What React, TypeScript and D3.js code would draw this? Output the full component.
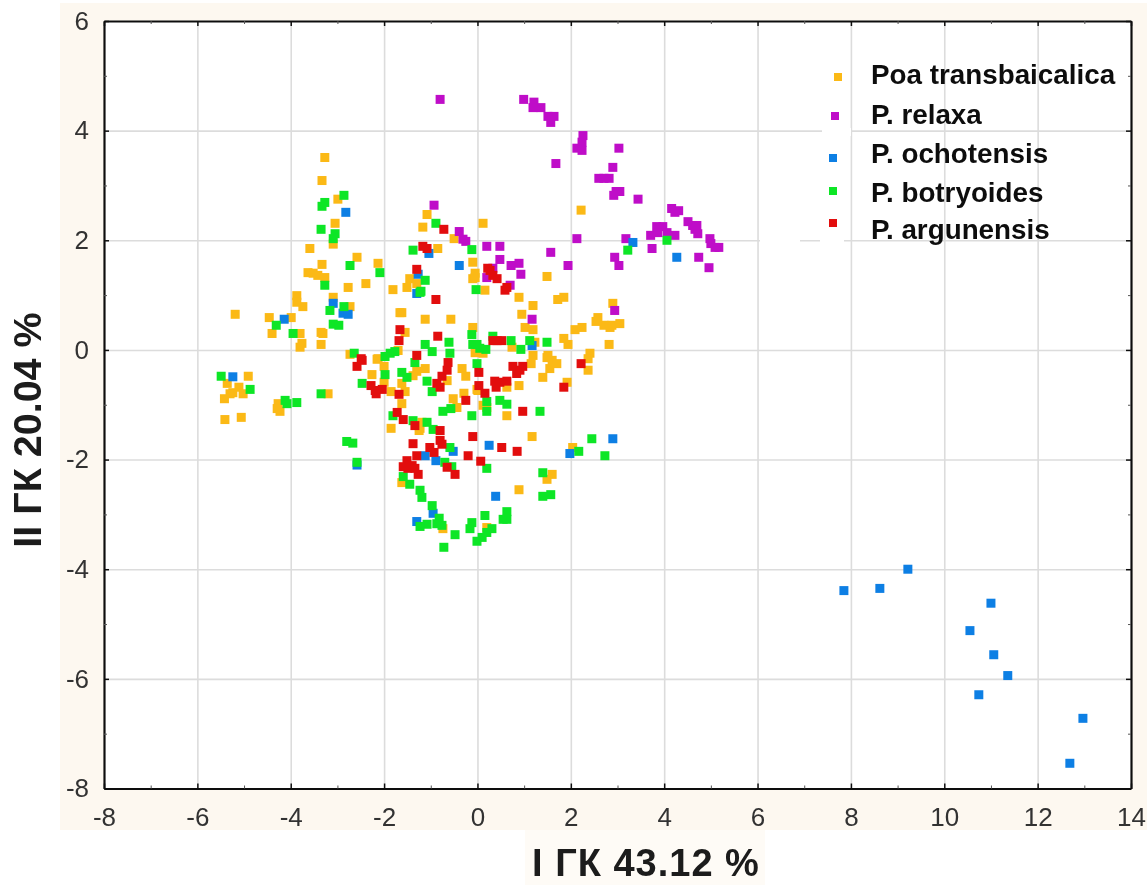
import { useEffect, useRef } from 'react'
import * as d3 from 'd3'

type Pt = [number, number]

const xTicks = [-8, -6, -4, -2, 0, 2, 4, 6, 8, 10, 12, 14]
const yTicks = [-8, -6, -4, -2, 0, 2, 4, 6]
const xMinor = [-7, -5, -3, -1, 1, 3, 5, 7, 9, 11, 13]
const yMinor = [-7, -5, -3, -1, 1, 3, 5]

const xTitle = 'I ГК 43.12 %'
const yTitle = 'II ГК 20.04 %'

const transbaicalica: Pt[] = [
  [-3.27, 3.51], [-3.33, 3.09], [-2.99, 2.75], [-3.05, 2.31], [-3.09, 1.93], [-3.59, 1.85], [-2.58, 1.69], [-3.33, 1.56],
  [-2.13, 1.58], [-3.63, 1.41], [-3.52, 1.4], [-3.42, 1.36], [-3.27, 1.32], [-2.77, 1.14], [-2.39, 1.21], [-1.81, 1.1],
  [-3.87, 0.99], [-3.87, 0.87], [-3.74, 0.79], [-3.09, 0.96], [-2.73, 0.79], [-5.19, 0.65], [-4.46, 0.59], [-3.99, 0.59],
  [-4.4, 0.3], [-3.8, 0.3], [-3.35, 0.32], [-3.31, 0.3], [-3.76, 0.12], [-3.8, 0.05], [-3.35, 0.1], [-1.66, 0.68],
  [-1.51, 1.14], [-1.45, 1.3], [-1.3, 1.21], [-1.62, 0.68], [-1.12, 0.56], [-0.57, 0.56], [-1.17, 2.24], [-1.08, 2.47],
  [-0.85, 1.85], [-0.5, 2.03], [-0.1, 1.6], [-0.05, 1.4], [-0.1, 1.3], [-1.55, 0.32], [-0.1, 0.41], [-2.73, -0.08],
  [-2.13, -0.16], [0.12, 2.31], [2.22, 2.55], [-0.05, 1.32], [0.16, 1.09], [1.49, 1.34], [0.89, 0.96], [1.19, 0.81],
  [0.95, 0.65], [1.72, 0.92], [1.85, 0.96], [2.9, 0.85], [2.58, 0.59], [2.54, 0.52], [2.71, 0.45], [2.88, 0.45],
  [3.05, 0.48], [2.84, 0.41], [2.09, 0.37], [2.24, 0.41], [1.85, 0.21], [1.94, 0.1], [2.82, 0.1], [1.02, 0.41],
  [1.19, 0.37], [1.23, 0.14], [1.19, -0.1], [1.51, -0.1], [2.41, -0.06], [0.74, 0.05], [2.37, -0.16], [2.37, -0.37],
  [1.92, -0.59], [1.4, -0.5], [0.89, -0.65], [0.63, -0.68], [1.49, -0.14], [1.6, -0.19], [1.7, -0.25], [1.55, -0.34],
  [1.15, -0.25], [0.63, -1.2], [1.17, -1.58], [2.04, -1.78], [0.89, -2.55], [1.6, -2.27], [1.49, -2.36], [0.2, -1.05],
  [-0.52, -0.89], [-0.29, -0.79], [-0.44, -1.05], [-1.23, -1.43], [0.2, -3.24], [-0.74, -3.26], [-0.65, -0.56], [-0.33, -0.34],
  [-0.25, -0.48], [-0.01, -0.72], [-4.91, -0.48], [-5.36, -0.61], [-5.11, -0.68], [-5.24, -0.78], [-5.3, -0.8], [-5.42, -0.89],
  [-5.02, -0.8], [-5.41, -1.27], [-5.06, -1.23], [-4.27, -0.98], [-4.29, -1.07], [-4.23, -1.12], [-3.2, -0.8], [-2.15, -0.17],
  [-2.0, -0.3], [-2.26, -0.45], [-2.0, -0.59], [-1.85, -0.76], [-1.62, -0.61], [-1.55, -0.76], [-1.62, -0.98], [-1.3, -0.39],
  [-1.12, -0.34], [-1.38, -0.47], [-1.85, -1.43], [-1.25, -1.47], [-1.19, -1.32], [-1.62, -2.42], [-0.05, -0.05], [0.12, -0.06],
  [-1.7, -0.01], [0.12, -1.01], [0.01, -0.74],
]

const relaxa: Pt[] = [
  [-0.8, 4.57], [0.99, 4.57], [1.21, 4.52], [1.19, 4.42], [1.36, 4.42], [1.51, 4.26], [1.64, 4.26], [1.57, 4.15],
  [2.26, 3.91], [2.24, 3.79], [2.13, 3.68], [2.24, 3.64], [3.03, 3.68], [1.68, 3.4], [2.9, 3.33], [2.6, 3.13],
  [2.71, 3.13], [2.82, 3.13], [3.05, 2.89], [2.97, 2.89], [2.92, 2.82], [3.44, 2.75], [4.16, 2.58], [4.31, 2.54],
  [4.23, 2.51], [4.51, 2.34], [4.61, 2.27], [4.7, 2.27], [4.66, 2.2], [4.72, 2.12], [4.98, 2.03], [5.0, 1.94],
  [5.09, 1.87], [5.17, 1.87], [3.84, 2.25], [3.97, 2.25], [3.71, 2.09], [3.86, 2.14], [4.06, 2.14], [4.23, 2.09],
  [3.18, 2.03], [2.13, 2.03], [2.94, 1.69], [3.03, 1.54], [3.74, 1.85], [4.74, 1.69], [4.96, 1.5], [1.94, 1.54],
  [1.57, 1.78], [0.93, 1.38], [0.89, 1.58], [0.72, 1.54], [0.48, 1.65], [0.48, 1.89], [0.2, 1.89], [-0.25, 1.98],
  [-0.31, 2.02], [-0.39, 2.16], [-0.93, 2.64], [2.94, 0.72], [1.17, 0.56], [0.7, 1.18], [0.2, 1.32], [0.33, 1.49],
]

const ochotensis: Pt[] = [
  [7.85, -4.39], [8.62, -4.35], [9.22, -4.0], [11.0, -4.62], [10.55, -5.12], [11.06, -5.56], [11.36, -5.94], [10.74, -6.29],
  [12.97, -6.72], [12.69, -7.54], [-2.82, 2.51], [-4.14, 0.56], [-3.09, 0.85], [-2.88, 0.67], [-2.77, 0.65], [-5.24, -0.49],
  [-2.58, -2.1], [-1.12, -1.93], [-0.89, -2.02], [-0.52, -1.85], [0.25, -1.74], [0.39, -2.67], [-1.3, -3.13], [-0.95, -2.98],
  [1.98, -1.89], [2.9, -1.62], [1.17, 0.08], [3.33, 1.96], [4.27, 1.69], [-0.39, 1.54], [-1.04, 1.76], [-1.27, 1.38], [-1.3, 1.03],
]

const botryoides: Pt[] = [
  [-2.86, 2.82], [-3.27, 2.69], [-3.33, 2.62], [-3.35, 2.2], [-3.05, 2.12], [-3.09, 2.03], [-2.73, 1.54], [-2.09, 1.41],
  [-3.27, 1.18], [-3.16, 0.72], [-2.86, 0.79], [-3.09, 0.47], [-2.97, 0.45], [-4.31, 0.45], [-3.95, 0.3], [-1.38, 1.82],
  [-0.89, 2.31], [-0.12, 1.83], [-1.12, 1.27], [-1.21, 1.07], [-0.03, 1.1], [-0.12, 0.28], [-0.1, 0.1], [-0.01, 0.1],
  [-0.61, 0.14], [-1.12, 0.1], [-0.97, -0.03], [-0.59, -0.06], [-1.77, -0.03], [-1.87, -0.06], [-1.98, -0.12], [-2.64, -0.06],
  [-5.49, -0.48], [-4.87, -0.72], [-4.12, -0.92], [-4.08, -0.98], [-3.87, -0.96], [-3.35, -0.8], [-2.8, -1.67], [-2.67, -1.7],
  [-2.58, -2.05], [-1.98, -0.45], [-1.62, -0.41], [-1.51, -0.5], [-2.47, -0.61], [-1.34, -0.23], [-0.01, -0.25], [0.18, 0.01],
  [-1.08, -0.57], [-0.97, -0.76], [-0.74, -1.12], [-0.57, -1.07], [-0.12, -1.2], [0.2, -0.94], [0.2, -1.12], [-1.81, -1.2],
  [-1.08, -1.32], [-1.38, -1.29], [-0.95, -1.45], [-0.59, -1.78], [-0.7, -2.05], [-0.55, -2.13], [0.2, -2.16], [-1.59, -2.31],
  [-1.45, -2.45], [-1.23, -2.56], [-1.19, -2.69], [-0.97, -2.84], [-0.82, -3.07], [-0.87, -3.17], [-1.08, -3.18], [-1.23, -3.22],
  [-0.76, -3.2], [-0.48, -3.37], [-0.72, -3.6], [-0.12, -3.15], [-0.16, -3.26], [0.16, -3.02], [0.31, -3.26], [0.2, -3.33],
  [0.1, -3.42], [-0.01, -3.49], [0.48, -0.92], [0.63, -0.99], [1.34, -1.12], [0.63, -2.95], [0.63, -3.09], [0.55, -3.09],
  [2.45, -1.62], [2.17, -1.85], [2.73, -1.93], [1.4, -2.24], [1.4, -2.67], [1.57, -2.64], [1.49, 0.14], [1.12, 0.17],
  [0.93, 0.01], [0.72, 0.17], [0.33, 0.25], [0.05, 0.03], [4.06, 2.0], [3.22, 1.82], [-1.23, 1.05],
]

const argunensis: Pt[] = [
  [-0.72, 2.2], [-1.17, 1.89], [-1.08, 1.85], [-1.3, 1.47], [-0.89, 0.92], [-1.66, 0.37], [-1.68, 0.17], [-0.85, 0.25],
  [-1.3, -0.1], [-2.49, -0.16], [-2.47, -0.19], [-2.58, -0.3], [-0.63, -0.23], [-0.65, -0.37], [-0.76, -0.48], [-0.87, -0.61],
  [-0.8, -0.68], [-2.28, -0.65], [-2.19, -0.74], [-2.17, -0.8], [-2.04, -0.72], [-1.68, -0.81], [-1.72, -1.14], [-1.59, -1.27],
  [-1.34, -1.38], [-0.8, -1.47], [-0.8, -1.65], [-0.76, -1.72], [-1.38, -1.71], [-1.02, -1.78], [-0.93, -1.87], [-1.3, -1.93],
  [-1.51, -2.02], [-1.4, -2.11], [-1.59, -2.13], [-1.49, -2.16], [-1.34, -2.16], [-0.65, -2.14], [-0.48, -2.27], [-1.27, -2.27],
  [-0.25, -0.92], [-0.1, -1.58], [-0.2, -1.93], [0.07, -2.03], [0.52, -1.78], [0.85, -1.85], [0.03, -0.41], [0.03, -0.65],
  [0.16, -0.79], [0.37, -0.57], [0.48, -0.59], [0.4, -0.68], [0.63, -0.57], [0.76, -0.3], [0.84, -0.43], [0.97, -0.3],
  [0.91, -0.37], [2.22, -0.25], [1.85, -0.68], [0.97, -1.12], [0.27, 1.45], [0.22, 1.49], [0.33, 1.36], [0.42, 1.3],
  [0.59, 1.09], [0.63, 1.14], [0.33, 0.17], [0.52, 0.17], [0.42, 0.17],
]

const seriesNames = ['Poa transbaicalica', 'P. relaxa', 'P. ochotensis', 'P. botryoides', 'P. argunensis']
const seriesColors = ['#fbb916', '#bf10c8', '#107fe4', '#10e628', '#e21010']
const seriesData = [transbaicalica, relaxa, ochotensis, botryoides, argunensis]

const WIDTH = 1147
const HEIGHT = 885
const LEFT = 104
const RIGHT = 1131
const TOP = 21
const BOTTOM = 788.5
const MARK = 9
const tickFont = '"Liberation Sans", Arial, sans-serif'

const App = () => {
  const ref = useRef<SVGSVGElement>(null)

  useEffect(() => {
    const svg = d3.select(ref.current)
    svg.selectAll('*').remove()

    const x = d3.scaleLinear().domain([-8, 14]).range([LEFT, RIGHT])
    const y = d3.scaleLinear().domain([-8, 6]).range([BOTTOM, TOP])

    const soft = svg.append('defs').append('filter').attr('id', 'soft')
    soft.append('feGaussianBlur').attr('stdDeviation', 0.45)

    const root = svg.append('g').attr('filter', 'url(#soft)')

    // cream backdrop, the white plot sits on top of it
    root.append('rect').attr('x', 60).attr('y', 3).attr('width', WIDTH - 60).attr('height', 827).attr('fill', '#fdf8f0')
    root.append('rect').attr('x', 525).attr('y', 830).attr('width', 240).attr('height', 55).attr('fill', '#fefbf6')
    root.append('rect').attr('x', LEFT).attr('y', TOP).attr('width', RIGHT - LEFT).attr('height', BOTTOM - TOP).attr('fill', '#fff')

    // grid
    root.append('g')
      .attr('transform', `translate(0,${BOTTOM})`)
      .call(d3.axisBottom(x).tickValues(xTicks.slice(1, -1)).tickSize(-(BOTTOM - TOP)).tickFormat(() => ''))
      .call(g => g.select('.domain').remove())
      .call(g => g.selectAll('line').attr('stroke', '#dcdcdc').attr('stroke-width', 1.6))

    root.append('g')
      .attr('transform', `translate(${LEFT},0)`)
      .call(d3.axisLeft(y).tickValues(yTicks.slice(1, -1)).tickSize(-(RIGHT - LEFT)).tickFormat(() => ''))
      .call(g => g.select('.domain').remove())
      .call(g => g.selectAll('line').attr('stroke', '#dcdcdc').attr('stroke-width', 1.6))

    // legend box knocks out the grid lines behind the markers
    root.append('rect').attr('x', 822).attr('y', 128).attr('width', 29).attr('height', 8).attr('fill', '#fff')
    root.append('rect').attr('x', 820).attr('y', 236).attr('width', 24).attr('height', 8).attr('fill', '#fff')
    root.append('rect').attr('x', 760).attr('y', 236).attr('width', 40).attr('height', 8).attr('fill', '#fff')

    // points
    seriesData.forEach((pts, i) => {
      root.append('g').selectAll('rect')
        .data(pts)
        .enter()
        .append('rect')
        .attr('x', d => x(d[0]) - MARK / 2)
        .attr('y', d => y(d[1]) - MARK / 2)
        .attr('width', MARK)
        .attr('height', MARK)
        .attr('fill', seriesColors[i])
    })

    // frame and ticks
    const styleAxis = (g: any) => {
      g.selectAll('line').attr('stroke', '#111').attr('stroke-width', 1.5)
      g.select('.domain').attr('stroke', '#111').attr('stroke-width', 2.2)
      g.selectAll('text').attr('font-family', tickFont).attr('font-size', 26).attr('fill', '#333')
    }
    const fmt = (d: any) => String(d)

    root.append('g')
      .attr('transform', `translate(0,${BOTTOM})`)
      .call(d3.axisBottom(x).tickValues(xTicks).tickSize(-5).tickSizeOuter(0).tickPadding(19).tickFormat(fmt))
      .call(styleAxis)
    root.append('g')
      .attr('transform', `translate(${LEFT},0)`)
      .call(d3.axisLeft(y).tickValues(yTicks).tickSize(-5).tickSizeOuter(0).tickPadding(15).tickFormat(fmt))
      .call(styleAxis)
    root.append('g')
      .attr('transform', `translate(0,${TOP})`)
      .call(d3.axisTop(x).tickValues(xTicks).tickSize(-5).tickSizeOuter(0).tickFormat(() => ''))
      .call(styleAxis)
    root.append('g')
      .attr('transform', `translate(${RIGHT},0)`)
      .call(d3.axisRight(y).tickValues(yTicks).tickSize(-5).tickSizeOuter(0).tickFormat(() => ''))
      .call(styleAxis)

    // minor ticks
    const minor = (axis: any, at: string) => root.append('g')
      .attr('transform', at)
      .call(axis.tickSize(-3).tickSizeOuter(0).tickFormat(() => ''))
      .call((g: any) => {
        g.select('.domain').remove()
        g.selectAll('line').attr('stroke', '#555').attr('stroke-width', 1)
      })
    minor(d3.axisBottom(x).tickValues(xMinor), `translate(0,${BOTTOM})`)
    minor(d3.axisTop(x).tickValues(xMinor), `translate(0,${TOP})`)
    minor(d3.axisLeft(y).tickValues(yMinor), `translate(${LEFT},0)`)
    minor(d3.axisRight(y).tickValues(yMinor), `translate(${RIGHT},0)`)

    // legend
    const legendMarkX = [838, 835, 833, 833, 833]
    const legendMarkY = [77, 116, 158, 191, 223]
    const legendTextY = [84, 124, 163, 202, 239]
    seriesNames.forEach((name, i) => {
      root.append('rect')
        .attr('x', legendMarkX[i] - 4).attr('y', legendMarkY[i] - 4)
        .attr('width', 8).attr('height', 8)
        .attr('fill', seriesColors[i])
      root.append('text')
        .attr('x', 871).attr('y', legendTextY[i])
        .attr('font-family', tickFont).attr('font-weight', 700).attr('font-size', 27.8)
        .attr('fill', '#111')
        .text(name)
    })

    // axis titles
    root.append('text')
      .attr('x', 646).attr('y', 876)
      .attr('text-anchor', 'middle')
      .attr('font-family', tickFont).attr('font-weight', 700).attr('font-size', 38)
      .attr('letter-spacing', 1)
      .attr('fill', '#1a1a1a')
      .text(xTitle)
    root.append('text')
      .attr('transform', 'translate(41,430) rotate(-90)')
      .attr('text-anchor', 'middle')
      .attr('font-family', tickFont).attr('font-weight', 700).attr('font-size', 39.5)
      .attr('fill', '#1a1a1a')
      .text(yTitle)
  }, [])

  return <svg ref={ref} width={WIDTH} height={HEIGHT} style={{ position: 'absolute', left: 0, top: 0, display: 'block' }} />
}

export default App
